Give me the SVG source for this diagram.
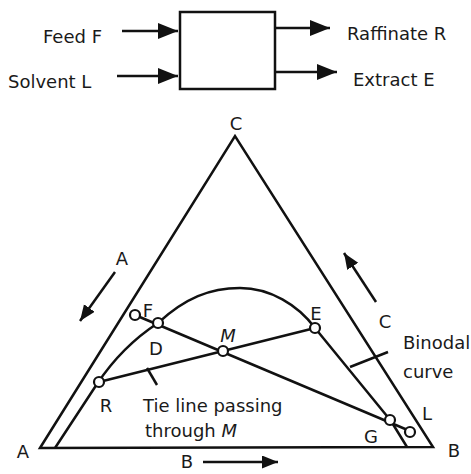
<svg xmlns="http://www.w3.org/2000/svg" width="471" height="474" viewBox="0 0 471 474">
<defs>
<marker id="big" markerUnits="userSpaceOnUse" markerWidth="22" markerHeight="18" refX="20" refY="8" orient="auto">
<path d="M0,0 L20,8 L0,16 Z" fill="#111"/>
</marker>
<marker id="small" markerUnits="userSpaceOnUse" markerWidth="18" markerHeight="14" refX="16" refY="6.5" orient="auto">
<path d="M0,0 L16,6.5 L0,13 Z" fill="#111"/>
</marker>
</defs>
<style>
text{font-family:"DejaVu Sans","Liberation Sans",sans-serif;font-size:18px;fill:#1a1a1a}
.ln{stroke:#111;stroke-width:2.5;fill:none}
.pt{stroke:#111;stroke-width:2.2;fill:#fff}
.it{font-style:italic}
</style>
<rect width="471" height="474" fill="#fff"/>

<g id="process">
<rect x="180" y="12" width="95" height="77" class="ln"/>
</g>
<g id="labels-top">
<text x="43" y="43">Feed F</text>
<text x="8" y="88">Solvent L</text>
<text x="347" y="40">Raffinate R</text>
<text x="353" y="86">Extract E</text>
</g>

<g id="triangle">
<path d="M40,448 L235,136 L433,447 Z" class="ln" stroke-linejoin="miter"/>
</g>

<g id="binodal">
<path d="M55,448 L97,384 C115,357 135,338 158,323 C185,298 210,288 240,288 C270,288 298,305 315,328 L391,421 L407,447" class="ln" stroke-linejoin="round"/>
</g>

<g id="connectors">
<line x1="122" y1="31" x2="178" y2="31" class="ln" marker-end="url(#big)"/>
<line x1="117" y1="76" x2="178" y2="76" class="ln" marker-end="url(#big)"/>
<line x1="275" y1="28" x2="330" y2="28" class="ln" marker-end="url(#big)"/>
<line x1="275" y1="72" x2="337" y2="72" class="ln" marker-end="url(#big)"/>
<line x1="135" y1="315" x2="410" y2="431" class="ln"/>
<line x1="99" y1="382" x2="315" y2="328" class="ln"/>
<line x1="147" y1="368" x2="157" y2="385" class="ln"/>
<line x1="350" y1="367" x2="388" y2="352" class="ln"/>
<line x1="115" y1="272" x2="80" y2="321" class="ln" marker-end="url(#small)"/>
<line x1="376" y1="302" x2="344" y2="253" class="ln" marker-end="url(#small)"/>
<line x1="203" y1="462" x2="278" y2="462" class="ln" marker-end="url(#small)"/>
</g>

<g id="points">
<circle cx="135" cy="315" r="5" class="pt"/>
<circle cx="158" cy="323" r="5" class="pt"/>
<circle cx="223" cy="351" r="5" class="pt"/>
<circle cx="99" cy="382" r="5" class="pt"/>
<circle cx="315" cy="328" r="5" class="pt"/>
<circle cx="390" cy="420" r="5" class="pt"/>
<circle cx="410" cy="432" r="5" class="pt"/>
</g>

<g id="labels-diagram">
<text x="236" y="130" text-anchor="middle">C</text>
<text x="23" y="458" text-anchor="middle">A</text>
<text x="454" y="457" text-anchor="middle">B</text>
<text x="187" y="468" text-anchor="middle">B</text>
<text x="122" y="265" text-anchor="middle">A</text>
<text x="385" y="328" text-anchor="middle">C</text>
<text x="148" y="317" text-anchor="middle">F</text>
<text x="156" y="355" text-anchor="middle">D</text>
<text x="228" y="342" text-anchor="middle" class="it">M</text>
<text x="316" y="320" text-anchor="middle">E</text>
<text x="106" y="412" text-anchor="middle">R</text>
<text x="371" y="443" text-anchor="middle">G</text>
<text x="427" y="420" text-anchor="middle">L</text>
<text x="403" y="349">Binodal</text>
<text x="403" y="378">curve</text>
<text x="143" y="412">Tie line passing</text>
<text x="145" y="437">through <tspan class="it">M</tspan></text>
</g>
</svg>
